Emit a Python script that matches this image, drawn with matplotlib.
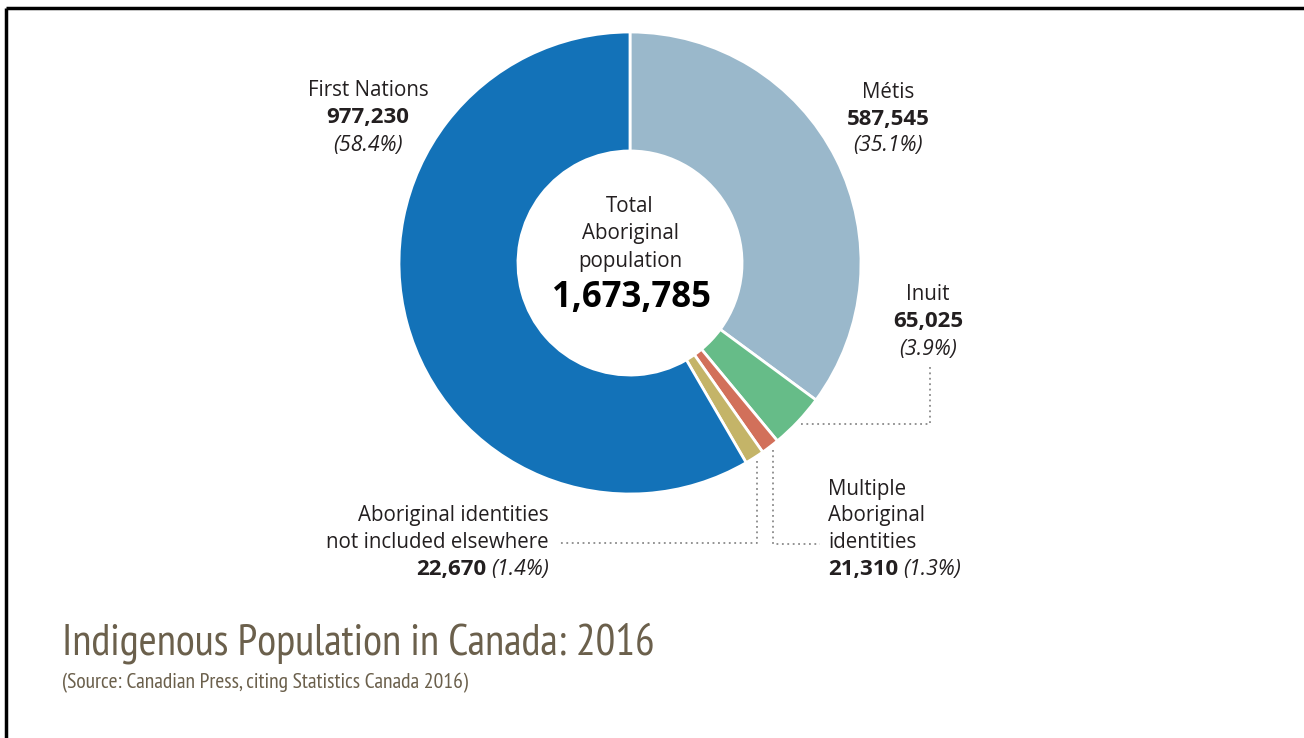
import numpy as np
import matplotlib.pyplot as plt

# data, clockwise from 12 o'clock
groups = ["Métis", "Inuit", "Multiple Aboriginal identities",
          "Aboriginal identities not included elsewhere", "First Nations"]
counts = [587545, 65025, 21310, 22670, 977230]
shares = [35.1, 3.9, 1.3, 1.4, 58.4]
total_label = "1,673,785"
colors = ["#9ab8cb", "#66bc88", "#d2705a", "#c4b468", "#1372b8"]

W, H = 1304, 738
fig = plt.figure(figsize=(W / 100, H / 100), dpi=100)
ax = fig.add_axes([0, 0, 1, 1])

def Y(y):
    return H - y

lab_font = ["Open Sans", "DejaVu Sans"]
txt_col = "#231f20"

cx, cy, R = 630, Y(263), 231
wedges, _ = ax.pie(counts, colors=colors, startangle=90, counterclock=False,
                   center=(cx, cy), radius=R,
                   wedgeprops=dict(width=R * 0.515, edgecolor="white", linewidth=2))
ax.set_xlim(0, W)
ax.set_ylim(0, H)
ax.set_aspect("equal")
ax.axis("off")

# frame on left and top
ax.plot([6, 6], [0, Y(8)], color="black", lw=2.5, solid_capstyle="butt")
ax.plot([6, W], [Y(8), Y(8)], color="black", lw=2.5, solid_capstyle="butt")

NORM, BOLD, ITAL = 14.8, 16, 15.3

def txt(x, y, s, ha="center", size=NORM, weight="normal", style="normal", color=txt_col):
    return ax.text(x, Y(y + 2), s, ha=ha, va="center", fontsize=size, fontweight=weight,
                   fontstyle=style, color=color, family=lab_font)

# centre text
txt(630, 205, "Total")
txt(630, 232, "Aboriginal")
txt(630, 259, "population")
txt(632, 296, total_label, size=25, weight="bold", color="black")

def edge_point(i, r):
    w = wedges[i]
    mid = np.deg2rad((w.theta1 + w.theta2) / 2)
    return cx + r * np.cos(mid), cy + r * np.sin(mid)

# First Nations
txt(368, 89, "First Nations")
txt(368, 116, f"{counts[4]:,}", size=BOLD, weight="bold")
txt(368, 144, f"({shares[4]}%)", size=ITAL, style="italic")
# Métis
txt(888, 90, "Métis")
txt(888, 117, f"{counts[0]:,}", size=BOLD, weight="bold")
txt(888, 144, f"({shares[0]}%)", size=ITAL, style="italic")
# Inuit
txt(928, 293, "Inuit")
txt(928, 320, f"{counts[1]:,}", size=BOLD, weight="bold")
txt(928, 347, f"({shares[1]}%)", size=ITAL, style="italic")

# Multiple
txt(828, 487, "Multiple", ha="left")
txt(828, 514, "Aboriginal", ha="left")
txt(828, 541, "identities", ha="left")
b = txt(828, 568, f"{counts[2]:,}", ha="left", size=BOLD, weight="bold")
fig.canvas.draw()
bb = b.get_window_extent()
txt(bb.x1 + 5, 568, f"({shares[2]}%)", ha="left", size=ITAL, style="italic")

# not included elsewhere
txt(549, 514, "Aboriginal identities", ha="right")
txt(549, 541, "not included elsewhere", ha="right")
it = txt(549, 568, f"({shares[3]}%)", ha="right", size=ITAL, style="italic")
fig.canvas.draw()
bb = it.get_window_extent()
txt(bb.x0 - 5, 568, f"{counts[3]:,}", ha="right", size=BOLD, weight="bold")

# leader lines
ls = dict(color="#8a8a8a", lw=1.3, linestyle=(0, (1, 2)))
px, py = edge_point(1, R + 4)
ax.plot([px, 930, 930], [py, py, Y(365)], **ls)
px, py = edge_point(2, R + 4)
ax.plot([px, px, 820], [py, Y(544), Y(544)], **ls)
px, py = edge_point(3, R + 4)
ax.plot([px, px, 560], [py, Y(543), Y(543)], **ls)

# title
title_font = ["PT Sans Narrow", "DejaVu Sans"]
ax.text(62, Y(643), "Indigenous Population in Canada: 2016", ha="left", va="center",
        fontsize=31.4, color="#6b604c", family=title_font)
ax.text(62, Y(683), "(Source: Canadian Press, citing Statistics Canada 2016)", ha="left",
        va="center", fontsize=15.6, color="#6b604c", family=title_font)

fig.savefig("out.png", dpi=100, facecolor="white")
